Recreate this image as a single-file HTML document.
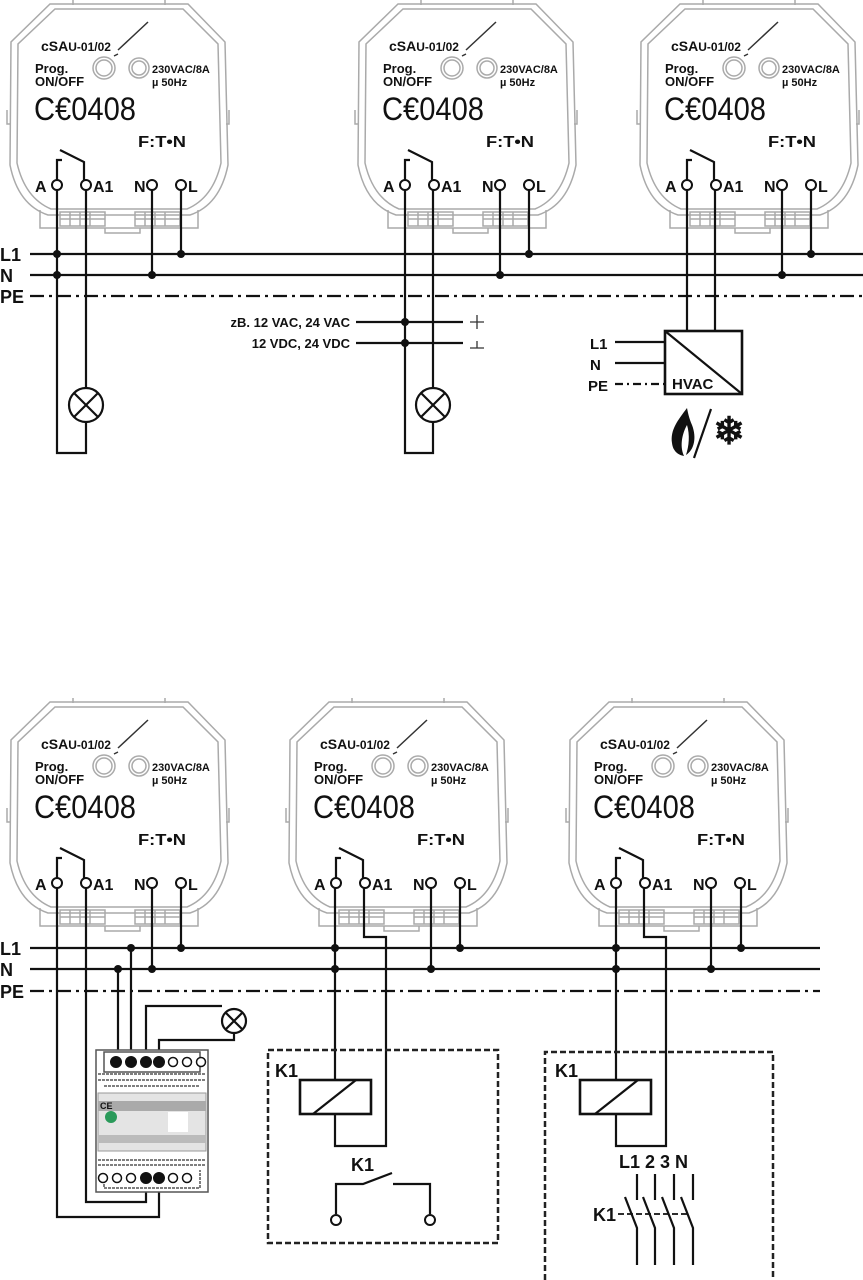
<!DOCTYPE html>
<html><head><meta charset="utf-8"><style>
html,body{margin:0;padding:0;background:#fff}
svg{display:block}
text{font-family:"Liberation Sans",sans-serif;fill:#111}
.b{font-weight:bold}
.w{stroke:#111;stroke-width:2.2;fill:none}
.g{stroke:#aaa;stroke-width:1.5;fill:none}
.d{fill:#111}
.pe{stroke:#111;stroke-width:2.2;fill:none;stroke-dasharray:14,5,3,5}
.db{stroke:#222;stroke-width:2.5;fill:none;stroke-dasharray:6,3}
</style></head><body>
<svg width="863" height="1280" viewBox="0 0 863 1280" xmlns="http://www.w3.org/2000/svg">
<defs>
<g id="shell">
<path class="g" d="M73,0 L73,5 M165,0 L165,5 M50,4 L188,4 L225,42 L228,165 Q220,205 190,215 L48,215 Q18,205 10,165 L11,42 Z"/>
<path class="g" d="M55,9 L183,9 L218,44 L221,163 Q213,198 187,209 L51,209 Q25,198 17,163 L18,44 Z"/>
<path class="g" d="M40,210 L40,228 L198,228 L198,210 M105,228 L105,233 L140,233 L140,228"/>
<path class="g" d="M60,212 h45 v14 h-45z M70,212v14 M80,212v14 M90,212v14 M135,212 h45 v14 h-45z M145,212v14 M155,212v14 M165,212v14 M60,219h45 M135,219h45"/>
<path class="g" d="M7,110 v14 h3 M229,110 v14 h-3"/>
<circle class="g" cx="104" cy="68" r="11"/><circle class="g" cx="104" cy="68" r="8"/>
<circle class="g" cx="139" cy="68" r="10"/><circle class="g" cx="139" cy="68" r="7"/>
<path stroke="#333" stroke-width="1.5" d="M118,50 L148,22 M118,54 L114,56"/>
<path class="w" d="M62,160 h-5 v20 M60,150 L84,162 v18"/>
<circle cx="57" cy="185" r="5" fill="#fff" stroke="#111" stroke-width="2"/>
<circle cx="86" cy="185" r="5" fill="#fff" stroke="#111" stroke-width="2"/>
<circle cx="152" cy="185" r="5" fill="#fff" stroke="#111" stroke-width="2"/>
<circle cx="181" cy="185" r="5" fill="#fff" stroke="#111" stroke-width="2"/>
</g>
<g id="lbl">
<text x="41" y="51" class="b" font-size="14">cSA<tspan font-size="12">U-01/02</tspan></text>
<text x="35" y="73" font-size="13" class="b">Prog.</text><text x="35" y="86" font-size="13" class="b">ON/OFF</text>
<text x="152" y="73" font-size="11" class="b">230VAC/8A</text><text x="152" y="86" font-size="11" class="b">µ   50Hz</text>
<text x="34" y="120" font-size="32" textLength="102" lengthAdjust="spacingAndGlyphs">C€0408</text>
<text x="138" y="147" font-size="16" class="b" textLength="48" lengthAdjust="spacingAndGlyphs">F:T•N</text>
<text x="35" y="192" font-size="16" class="b">A</text><text x="93" y="192" font-size="16" class="b">A1</text>
<text x="134" y="192" font-size="16" class="b">N</text><text x="188" y="192" font-size="16" class="b">L</text>
</g>
</defs>

<!-- top devices -->
<g transform="translate(0,0)"><use href="#shell"/>
<text x="41" y="51" class="b" font-size="14">cSA<tspan font-size="12">U-01/02</tspan></text>
<text x="35" y="73" font-size="13" class="b">Prog.</text><text x="35" y="86" font-size="13" class="b">ON/OFF</text>
<text x="152" y="73" font-size="11" class="b">230VAC/8A</text><text x="152" y="86" font-size="11" class="b">µ   50Hz</text>
<text x="34" y="120" font-size="32" textLength="102" lengthAdjust="spacingAndGlyphs">C€0408</text>
<text x="138" y="147" font-size="16" class="b" textLength="48" lengthAdjust="spacingAndGlyphs">F:T•N</text>
<text x="35" y="192" font-size="16" class="b">A</text><text x="93" y="192" font-size="16" class="b">A1</text>
<text x="134" y="192" font-size="16" class="b">N</text><text x="188" y="192" font-size="16" class="b">L</text>
</g>
<g transform="translate(348,0)"><use href="#shell"/>
<text x="41" y="51" class="b" font-size="14">cSA<tspan font-size="12">U-01/02</tspan></text>
<text x="35" y="73" font-size="13" class="b">Prog.</text><text x="35" y="86" font-size="13" class="b">ON/OFF</text>
<text x="152" y="73" font-size="11" class="b">230VAC/8A</text><text x="152" y="86" font-size="11" class="b">µ   50Hz</text>
<text x="34" y="120" font-size="32" textLength="102" lengthAdjust="spacingAndGlyphs">C€0408</text>
<text x="138" y="147" font-size="16" class="b" textLength="48" lengthAdjust="spacingAndGlyphs">F:T•N</text>
<text x="35" y="192" font-size="16" class="b">A</text><text x="93" y="192" font-size="16" class="b">A1</text>
<text x="134" y="192" font-size="16" class="b">N</text><text x="188" y="192" font-size="16" class="b">L</text>
</g>
<g transform="translate(630,0)"><use href="#shell"/>
<text x="41" y="51" class="b" font-size="14">cSA<tspan font-size="12">U-01/02</tspan></text>
<text x="35" y="73" font-size="13" class="b">Prog.</text><text x="35" y="86" font-size="13" class="b">ON/OFF</text>
<text x="152" y="73" font-size="11" class="b">230VAC/8A</text><text x="152" y="86" font-size="11" class="b">µ   50Hz</text>
<text x="34" y="120" font-size="32" textLength="102" lengthAdjust="spacingAndGlyphs">C€0408</text>
<text x="138" y="147" font-size="16" class="b" textLength="48" lengthAdjust="spacingAndGlyphs">F:T•N</text>
<text x="35" y="192" font-size="16" class="b">A</text><text x="93" y="192" font-size="16" class="b">A1</text>
<text x="134" y="192" font-size="16" class="b">N</text><text x="188" y="192" font-size="16" class="b">L</text>
</g>

<!-- top bus -->
<text x="0" y="261" font-size="18" class="b">L1</text>
<text x="0" y="282" font-size="18" class="b">N</text>
<text x="0" y="303" font-size="18" class="b">PE</text>
<path class="w" d="M30,254 H863 M30,275 H863"/>
<path class="pe" d="M30,296 H863"/>

<!-- top left circuit -->
<path class="w" d="M57,190 V453 H86 V422 M86,190 V388 M152,190 V275 M181,190 V254"/>
<circle class="w" cx="86" cy="405" r="17"/>
<path class="w" d="M74,393 L98,417 M98,393 L74,417"/>
<circle class="d" cx="57" cy="254" r="4"/><circle class="d" cx="57" cy="275" r="4"/><circle class="d" cx="152" cy="275" r="4"/><circle class="d" cx="181" cy="254" r="4"/>

<!-- top middle circuit -->
<path class="w" d="M405,190 V453 H433 V422 M433,190 V388 M500,190 V275 M529,190 V254 M356,322 H463 M356,343 H463"/>
<circle class="w" cx="433" cy="405" r="17"/>
<path class="w" d="M421,393 L445,417 M445,393 L421,417"/>
<circle class="d" cx="500" cy="275" r="4"/><circle class="d" cx="529" cy="254" r="4"/>
<circle class="d" cx="405" cy="322" r="4"/><circle class="d" cx="405" cy="343" r="4"/>
<text x="350" y="327" font-size="13" class="b" text-anchor="end">zB. 12 VAC, 24 VAC</text>
<text x="350" y="348" font-size="13" class="b" text-anchor="end">12 VDC, 24 VDC</text>
<path stroke="#333" stroke-width="1.3" d="M470,322 h14 M477,315 v14 M470,348 h14 M477,341 v7"/>

<!-- top right circuit -->
<path class="w" d="M687,190 V331 M715,190 V331 M782,190 V275 M811,190 V254 M615,342 H665 M615,363 H665"/>
<path class="pe" d="M615,384 H665" style="stroke-dasharray:8,4,2,4"/>
<circle class="d" cx="782" cy="275" r="4"/><circle class="d" cx="811" cy="254" r="4"/>
<rect x="665" y="331" width="77" height="63" class="w" style="stroke-width:2.6"/>
<path class="w" d="M665,331 L742,394"/>
<text x="672" y="389" font-size="15" class="b">HVAC</text>
<text x="590" y="349" font-size="15" class="b">L1</text>
<text x="590" y="370" font-size="15" class="b">N</text>
<text x="588" y="391" font-size="15" class="b">PE</text>
<path d="M687,408 C678,420 670,430 672,443 C673,452 679,455 684,456 C679,445 683,432 687,425 C690,435 689,446 686,455 C694,450 697,438 692,425 C689,418 688,413 687,408Z" fill="#111"/>
<path class="w" d="M711,409 L694,458"/>
<text x="729" y="444" font-size="38" text-anchor="middle" class="b">❄</text>

<!-- bottom devices -->
<g transform="translate(0,698)"><use href="#shell"/>
<text x="41" y="51" class="b" font-size="14">cSA<tspan font-size="12">U-01/02</tspan></text>
<text x="35" y="73" font-size="13" class="b">Prog.</text><text x="35" y="86" font-size="13" class="b">ON/OFF</text>
<text x="152" y="73" font-size="11" class="b">230VAC/8A</text><text x="152" y="86" font-size="11" class="b">µ   50Hz</text>
<text x="34" y="120" font-size="32" textLength="102" lengthAdjust="spacingAndGlyphs">C€0408</text>
<text x="138" y="147" font-size="16" class="b" textLength="48" lengthAdjust="spacingAndGlyphs">F:T•N</text>
<text x="35" y="192" font-size="16" class="b">A</text><text x="93" y="192" font-size="16" class="b">A1</text>
<text x="134" y="192" font-size="16" class="b">N</text><text x="188" y="192" font-size="16" class="b">L</text>
</g>
<g transform="translate(279,698)"><use href="#shell"/>
<text x="41" y="51" class="b" font-size="14">cSA<tspan font-size="12">U-01/02</tspan></text>
<text x="35" y="73" font-size="13" class="b">Prog.</text><text x="35" y="86" font-size="13" class="b">ON/OFF</text>
<text x="152" y="73" font-size="11" class="b">230VAC/8A</text><text x="152" y="86" font-size="11" class="b">µ   50Hz</text>
<text x="34" y="120" font-size="32" textLength="102" lengthAdjust="spacingAndGlyphs">C€0408</text>
<text x="138" y="147" font-size="16" class="b" textLength="48" lengthAdjust="spacingAndGlyphs">F:T•N</text>
<text x="35" y="192" font-size="16" class="b">A</text><text x="93" y="192" font-size="16" class="b">A1</text>
<text x="134" y="192" font-size="16" class="b">N</text><text x="188" y="192" font-size="16" class="b">L</text>
</g>
<g transform="translate(559,698)"><use href="#shell"/>
<text x="41" y="51" class="b" font-size="14">cSA<tspan font-size="12">U-01/02</tspan></text>
<text x="35" y="73" font-size="13" class="b">Prog.</text><text x="35" y="86" font-size="13" class="b">ON/OFF</text>
<text x="152" y="73" font-size="11" class="b">230VAC/8A</text><text x="152" y="86" font-size="11" class="b">µ   50Hz</text>
<text x="34" y="120" font-size="32" textLength="102" lengthAdjust="spacingAndGlyphs">C€0408</text>
<text x="138" y="147" font-size="16" class="b" textLength="48" lengthAdjust="spacingAndGlyphs">F:T•N</text>
<text x="35" y="192" font-size="16" class="b">A</text><text x="93" y="192" font-size="16" class="b">A1</text>
<text x="134" y="192" font-size="16" class="b">N</text><text x="188" y="192" font-size="16" class="b">L</text>
</g>

<!-- bottom bus -->
<text x="0" y="955" font-size="18" class="b">L1</text>
<text x="0" y="976" font-size="18" class="b">N</text>
<text x="0" y="998" font-size="18" class="b">PE</text>
<path class="w" d="M30,948 H820 M30,969 H820"/>
<path class="pe" d="M30,991 H820"/>

<!-- bottom left -->
<path class="w" d="M57,888 V1217 H159 V1178 M86,888 V1202 H146 V1178 M152,888 V969 M181,888 V948 M118,969 V1062 M131,948 V1062 M146,1062 V1006 H222 M159,1062 V1040 H234 V1033"/>
<circle class="d" cx="152" cy="969" r="4"/><circle class="d" cx="181" cy="948" r="4"/>
<circle class="d" cx="118" cy="969" r="4"/><circle class="d" cx="131" cy="948" r="4"/>
<circle class="w" cx="234" cy="1021" r="12"/>
<path class="w" d="M226,1013 L242,1029 M242,1013 L226,1029"/>
<g stroke="#555" stroke-width="1.5" fill="none">
<rect x="96" y="1050" width="112" height="142" fill="#fff"/>
<rect x="104" y="1052" width="96" height="20"/>
<path d="M98,1074 H206 M98,1080 H206 M104,1086 H200 M98,1165 H206 M98,1160 H206 M104,1176 V1188 H200 V1170" stroke-dasharray="3,1"/>
</g>
<rect x="98" y="1093" width="108" height="58" fill="#e4e4e4" stroke="#999"/>
<rect x="98" y="1101" width="108" height="10" fill="#aaa"/>
<rect x="98" y="1135" width="108" height="8" fill="#bbb"/>
<rect x="168" y="1112" width="20" height="20" fill="#fff"/>
<circle cx="111" cy="1117" r="6" fill="#2a9a5a"/>
<text x="100" y="1109" font-size="9" class="b">CE</text>
<g stroke="#111" stroke-width="2" fill="#fff">
<circle cx="116" cy="1062" r="5" fill="#111"/><circle cx="131" cy="1062" r="5" fill="#111"/><circle cx="146" cy="1062" r="5" fill="#111"/><circle cx="159" cy="1062" r="5" fill="#111"/>
<circle cx="173" cy="1062" r="4.5" stroke-width="1.5"/><circle cx="187" cy="1062" r="4.5" stroke-width="1.5"/><circle cx="201" cy="1062" r="4.5" stroke-width="1.5"/>
<circle cx="103" cy="1178" r="4.5" stroke-width="1.5"/><circle cx="117" cy="1178" r="4.5" stroke-width="1.5"/><circle cx="131" cy="1178" r="4.5" stroke-width="1.5"/>
<circle cx="146" cy="1178" r="5" fill="#111"/><circle cx="159" cy="1178" r="5" fill="#111"/>
<circle cx="173" cy="1178" r="4.5" stroke-width="1.5"/><circle cx="187" cy="1178" r="4.5" stroke-width="1.5"/>
</g>

<!-- bottom middle -->
<path class="w" d="M335,888 V1080 M364,888 V937 H386 V1146 H335 V1114 M431,888 V969 M460,888 V948"/>
<circle class="d" cx="335" cy="948" r="4"/><circle class="d" cx="335" cy="969" r="4"/>
<circle class="d" cx="431" cy="969" r="4"/><circle class="d" cx="460" cy="948" r="4"/>
<rect x="268" y="1050" width="230" height="193" class="db"/>
<rect x="300" y="1080" width="71" height="34" class="w" style="stroke-width:2.6"/>
<path class="w" d="M313,1114 L356,1080"/>
<text x="275" y="1077" font-size="18" class="b">K1</text>
<text x="351" y="1171" font-size="18" class="b">K1</text>
<path class="w" d="M336,1214 V1184 H363 L392,1173 M393,1184 H430 V1214"/>
<circle cx="336" cy="1220" r="5" fill="#fff" stroke="#111" stroke-width="2"/>
<circle cx="430" cy="1220" r="5" fill="#fff" stroke="#111" stroke-width="2"/>

<!-- bottom right -->
<path class="w" d="M616,888 V1080 M644,888 V937 H666 V1146 H616 V1114 M711,888 V969 M741,888 V948"/>
<circle class="d" cx="616" cy="948" r="4"/><circle class="d" cx="616" cy="969" r="4"/>
<circle class="d" cx="711" cy="969" r="4"/><circle class="d" cx="741" cy="948" r="4"/>
<path class="db" d="M545,1280 V1052 H773 V1280"/>
<rect x="580" y="1080" width="71" height="34" class="w" style="stroke-width:2.6"/>
<path class="w" d="M595,1114 L638,1080"/>
<text x="555" y="1077" font-size="18" class="b">K1</text>
<text x="619" y="1168" font-size="18" class="b">L1 2 3 N</text>
<text x="593" y="1221" font-size="18" class="b">K1</text>
<path class="w" d="M637,1174 V1200 M655,1174 V1200 M674,1174 V1200 M693,1174 V1200
M625,1197 L637,1228 V1265 M643,1197 L655,1228 V1265 M662,1197 L674,1228 V1265 M681,1197 L693,1228 V1265"/>
<path stroke="#111" stroke-width="1.8" stroke-dasharray="6,3" d="M618,1214 H690"/>
</svg>
</body></html>
